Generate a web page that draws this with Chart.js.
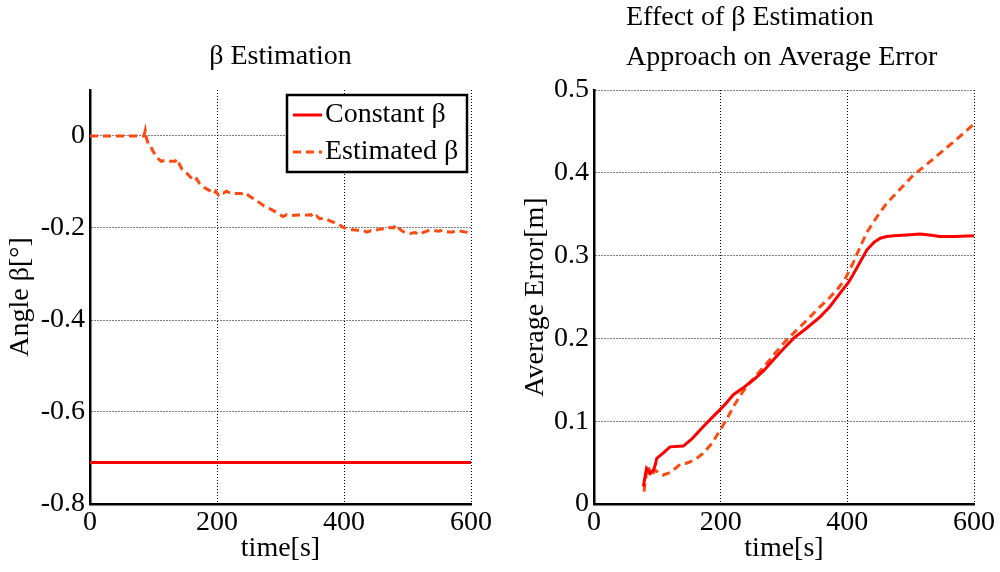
<!DOCTYPE html>
<html>
<head>
<meta charset="utf-8">
<script src="https://cdn.jsdelivr.net/npm/chart.js@4"></script>
<style>
    body { margin: 0; background: #fff; }
    .panel { position: absolute; top: 0; width: 500px; height: 572px; }
</style>
</head>
<body>
<div class="panel" style="left:0"><canvas id="betaChart" width="500" height="572"></canvas></div>
<div class="panel" style="left:500px"><canvas id="errorChart" width="500" height="572"></canvas></div>
<script>
// left panel: beta estimation
const betaConstTime = [0, 600];
const betaConstValues = [-0.71, -0.71];
const betaEstTime = [0, 85, 87, 89, 92, 95, 98, 101, 104, 108, 112, 118, 124, 134, 138, 141, 145, 150, 155, 160,
    164, 168, 172, 176, 180, 185, 190, 195, 198, 202, 206, 210, 215, 222, 240, 245, 250, 256, 262, 268,
    274, 280, 286, 292, 298, 304, 310, 318, 326, 340, 348, 352, 357, 362, 368, 374, 380, 390, 398, 406,
    414, 422, 430, 436, 442, 448, 454, 460, 466, 472, 478, 482, 486, 490, 496, 504, 512, 518, 524, 532,
    540, 548, 556, 562, 570, 576, 584, 592, 600];
const betaEstValues = [0, 0, 0.012, -0.005, -0.018, -0.02, -0.03, -0.037, -0.045, -0.05, -0.055, -0.053, -0.055, -0.055, -0.05, -0.062, -0.072, -0.077, -0.085, -0.092,
    -0.098, -0.093, -0.102, -0.108, -0.112, -0.116, -0.12, -0.126, -0.12, -0.128, -0.122, -0.124, -0.12, -0.125, -0.125, -0.123, -0.13, -0.135, -0.14, -0.146,
    -0.152, -0.156, -0.16, -0.165, -0.17, -0.175, -0.171, -0.173, -0.172, -0.172, -0.171, -0.178, -0.174, -0.18, -0.178, -0.182, -0.186, -0.19, -0.198, -0.203,
    -0.204, -0.205, -0.205, -0.209, -0.206, -0.207, -0.203, -0.202, -0.203, -0.199, -0.2, -0.193, -0.2, -0.205, -0.21, -0.212, -0.21, -0.214, -0.21, -0.206,
    -0.205, -0.207, -0.205, -0.208, -0.209, -0.206, -0.207, -0.209, -0.211];

// right panel: average error
const errConstTime = [78, 81, 83, 86, 88, 91, 94, 97, 99, 110, 120, 141, 155, 172, 186, 199, 210, 220, 235, 252,
    268, 283, 300, 315, 335, 357, 372, 388, 402, 409, 420, 431, 442, 452, 462, 473, 494, 515, 530, 546, 570, 600];
const errConstValues = [0.021, 0.035, 0.043, 0.040, 0.037, 0.039, 0.041, 0.048, 0.055, 0.062, 0.069, 0.070, 0.079, 0.093, 0.104, 0.114, 0.123, 0.132, 0.140, 0.150,
    0.161, 0.174, 0.188, 0.200, 0.212, 0.226, 0.238, 0.254, 0.268, 0.277, 0.292, 0.307, 0.316, 0.321, 0.323, 0.324, 0.325, 0.326, 0.325, 0.323, 0.323, 0.324];
const errEstTime = [79, 81, 83, 86, 88, 91, 96, 102, 109, 120, 130, 136, 145, 152, 162, 172, 186, 199, 210, 220,
    231, 241, 257, 273, 288, 304, 320, 336, 354, 373, 385, 396, 409, 420, 430, 446, 462, 483, 504, 525, 546, 572, 600];
const errEstValues = [0.015, 0.028, 0.039, 0.045, 0.040, 0.033, 0.041, 0.038, 0.035, 0.038, 0.044, 0.048, 0.049, 0.051, 0.055, 0.061, 0.073, 0.089, 0.103, 0.1175,
    0.131, 0.142, 0.156, 0.170, 0.184, 0.198, 0.210, 0.222, 0.236, 0.250, 0.260, 0.271, 0.291, 0.310, 0.327, 0.346, 0.363, 0.380, 0.397, 0.410, 0.4235, 0.440, 0.459];

const xTicks = [0, 200, 400, 600];
const betaTicks = [-0.8, -0.6, -0.4, -0.2, 0];
const errTicks = [0, 0.1, 0.2, 0.3, 0.4, 0.5];
const legendLabels = ['Constant \u03b2', 'Estimated \u03b2'];

const FONT = 'Liberation Serif';
const RED = '#ff0000';
const ORANGE = '#ff4a12';

function toPoints(xs, ys) {
    return xs.map(function (x, i) { return { x: x, y: ys[i] }; });
}

// titles drawn as plain text lines
const titlePlugin = {
    id: 'plotTitle',
    afterDraw(chart, args, opts) {
        const ctx = chart.ctx;
        ctx.save();
        ctx.fillStyle = '#000';
        ctx.font = '28px "' + FONT + '"';
        ctx.textBaseline = 'middle';
        ctx.textAlign = opts.align;
        const x = opts.align === 'center' ? (chart.chartArea.left + chart.chartArea.right) / 2 : opts.x;
        opts.lines.forEach(function (line, i) {
            ctx.fillText(line, x, opts.y[i]);
        });
        ctx.restore();
    }
};

// boxed legend in the upper right corner, MATLAB style
const boxLegend = {
    id: 'boxLegend',
    afterDraw(chart, args, opts) {
        if (!opts.show) return;
        const ctx = chart.ctx;
        const right = chart.chartArea.right - 4;
        const top = chart.chartArea.top + 5;
        const w = 180, h = 77;
        ctx.save();
        ctx.fillStyle = '#fff';
        ctx.fillRect(right - w, top, w, h);
        ctx.strokeStyle = '#000';
        ctx.lineWidth = 2.5;
        ctx.strokeRect(right - w, top, w, h);
        ctx.font = '28px "' + FONT + '"';
        ctx.textBaseline = 'middle';
        chart.data.datasets.forEach(function (ds, i) {
            const y = top + 20 + i * 37;
            ctx.strokeStyle = ds.borderColor;
            ctx.lineWidth = ds.borderWidth;
            ctx.setLineDash(ds.borderDash || []);
            ctx.beginPath();
            ctx.moveTo(right - w + 6, y);
            ctx.lineTo(right - w + 35, y);
            ctx.stroke();
            ctx.setLineDash([]);
            ctx.fillStyle = '#000';
            ctx.fillText(ds.label, right - w + 38, y);
        });
        ctx.restore();
    }
};

function makeScales(yMin, yMax, yTicks, yTitle, yTitlePad, yWidth) {
    const gridOpts = { color: '#000', lineWidth: 1, drawTicks: false };
    const borderOpts = { color: '#000', width: 2.5, dash: [1, 2] };
    const tickFont = { family: FONT, size: 28 };
    return {
        x: {
            type: 'linear',
            min: 0,
            max: 600,
            grid: gridOpts,
            border: borderOpts,
            afterBuildTicks: function (scale) {
                scale.ticks = xTicks.map(function (v) { return { value: v }; });
            },
            afterFit: function (scale) { scale.height = 68; },
            ticks: { color: '#000', font: tickFont, padding: 2, maxRotation: 0, autoSkip: false },
            title: { display: true, text: 'time[s]', color: '#000', font: { family: FONT, size: 28 }, padding: { top: 0, bottom: 7 } }
        },
        y: {
            type: 'linear',
            min: yMin,
            max: yMax,
            grid: gridOpts,
            border: borderOpts,
            afterBuildTicks: function (scale) {
                scale.ticks = yTicks.map(function (v) { return { value: v }; });
            },
            afterFit: function (scale) { scale.width = yWidth; },
            ticks: {
                color: '#000', font: tickFont, padding: 5,
                callback: function (v) { return String(Math.round(v * 10) / 10); }
            },
            title: { display: true, text: yTitle, color: '#000', font: { family: FONT, size: 28 }, padding: { top: yTitlePad, bottom: 0 } }
        }
    };
}

new Chart(document.getElementById('betaChart').getContext('2d'), {
    type: 'line',
    data: {
        datasets: [
            { label: legendLabels[0], data: toPoints(betaConstTime, betaConstValues), borderColor: RED, borderWidth: 3, pointRadius: 0, fill: false },
            { label: legendLabels[1], data: toPoints(betaEstTime, betaEstValues), borderColor: ORANGE, borderWidth: 3, borderDash: [8, 5], pointRadius: 0, fill: false }
        ]
    },
    options: {
        responsive: false,
        animation: false,
        layout: { padding: { left: 0, right: 29, top: 90, bottom: 0 } },
        scales: makeScales(-0.8, 0.1, betaTicks, 'Angle \u03b2[\u00b0]', 4, 90),
        plugins: {
            legend: { display: false },
            tooltip: { enabled: false },
            plotTitle: { lines: ['\u03b2 Estimation'], align: 'center', y: [57] },
            boxLegend: { show: true }
        }
    },
    plugins: [titlePlugin, boxLegend]
});

new Chart(document.getElementById('errorChart').getContext('2d'), {
    type: 'line',
    data: {
        datasets: [
            { label: legendLabels[0], data: toPoints(errConstTime, errConstValues), borderColor: RED, borderWidth: 3, pointRadius: 0, fill: false },
            { label: legendLabels[1], data: toPoints(errEstTime, errEstValues), borderColor: ORANGE, borderWidth: 3, borderDash: [8, 5], pointRadius: 0, fill: false }
        ]
    },
    options: {
        responsive: false,
        animation: false,
        layout: { padding: { left: 0, right: 26, top: 90, bottom: 0 } },
        scales: makeScales(0, 0.5, errTicks, 'Average Error[m]', 19, 94),
        plugins: {
            legend: { display: false },
            tooltip: { enabled: false },
            plotTitle: { lines: ['Effect of \u03b2 Estimation', 'Approach on Average Error'], align: 'left', x: 126, y: [18, 58] },
            boxLegend: { show: false }
        }
    },
    plugins: [titlePlugin, boxLegend]
});
</script>
</body>
</html>
